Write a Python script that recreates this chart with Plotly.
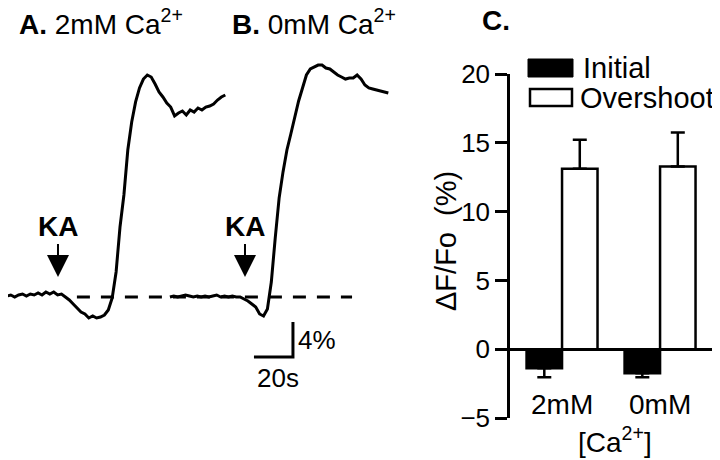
import plotly.graph_objects as go

# the page puts the figure 8 px in from the top-left corner,
# so the figure is 8 px smaller and positions are measured from the page
OFF = 8
W, H = 720 - OFF, 460 - OFF
FONT = "Liberation Sans, Arial, sans-serif"

# ---- panels A / B : dF/F traces (%), one sample every 2 s ----
DT = 2.0
trace_a = [-0.23, 0.11, 0.23, 0.0, 0.23, 0.34, 0.11, 0.34, 0.23, 0.46,
           0.23, 0.57, 0.34, 0.57, 0.23, 0.34, 0.0, -0.34, -0.8, -1.26,
           -1.71, -1.94, -2.4, -2.17, -2.4, -2.29, -2.06, -1.49, -0.11, 2.86,
           8.0, 11.66, 16.8, 20.0, 22.29, 23.89, 24.91, 25.37, 25.14, 24.34,
           23.43, 22.86, 22.17, 21.71, 20.69, 21.03, 21.26, 20.8, 21.37, 21.14,
           21.6, 21.37, 21.71, 21.83, 22.06, 22.51, 22.86, 23.09]
trace_b = [0.0, 0.11, 0.0, 0.11, 0.23, 0.11, 0.0, 0.11, 0.0, 0.11,
           0.0, 0.11, 0.23, 0.0, 0.11, 0.0, 0.11, 0.0, 0.0, -0.23,
           -0.46, -0.8, -1.14, -1.94, -2.17, -1.37, 1.71, 6.74, 11.3, 14.3,
           16.8, 18.63, 20.57, 22.4, 23.89, 25.37, 26.06, 26.29, 26.51, 26.51,
           26.17, 26.06, 25.71, 25.37, 25.14, 24.91, 25.03, 25.03, 25.37, 24.91,
           24.23, 23.89, 23.77, 23.66, 23.54, 23.43, 23.31]
time_a = [i * DT for i in range(len(trace_a))]
time_b = [i * DT for i in range(len(trace_b))]
B_SHIFT = 85.6            # s, where trace B is placed on the shared axis
KA_TIMES = [28.2, 124.1]  # s, KA application (shared axis)
BASELINE = [37.9, 179.0]  # s, extent of the dashed baseline
SCALE_T, SCALE_F = 20, 4  # scale bar: 20 s, 4 %
SCALE_CORNER = (148.7, -6.86)

# ---- panel C ----
ca_levels = ["2mM", "0mM"]
initial_mean = [-1.38, -1.74]
initial_err = [0.65, 0.30]
overshoot_mean = [13.12, 13.27]
overshoot_err = [2.10, 2.47]
y_ticks = [-5, 0, 5, 10, 15, 20]

PX_PER_S = 1.95     # trace time scale on the page
PX_PER_PCT = 8.75   # trace amplitude scale on the page
TRACE_X0 = 3        # page x of t = 0
TRACE_Y0 = 297      # page y of dF/F = 0


def px(x):
    return (x - OFF) / W


def py(y):
    return 1 - (y - OFF) / H


fig = go.Figure()

line = dict(color="black", width=3)
fig.add_trace(go.Scatter(x=time_a, y=trace_a, mode="lines", line=line,
                         xaxis="x", yaxis="y"))
fig.add_trace(go.Scatter(x=[t + B_SHIFT for t in time_b], y=trace_b,
                         mode="lines", line=line, xaxis="x", yaxis="y"))

# scale bar
cx, cy = SCALE_CORNER
fig.add_trace(go.Scatter(x=[cx - SCALE_T, cx, cx], y=[cy, cy, cy + SCALE_F],
                         mode="lines", line=dict(color="black", width=3),
                         xaxis="x", yaxis="y"))

fig.add_shape(type="line", xref="x", yref="y", x0=BASELINE[0], x1=BASELINE[1],
              y0=0, y1=0, line=dict(color="black", width=3, dash="13px,11px"),
              layer="below")

# bars
fig.add_trace(go.Bar(
    x=ca_levels, y=initial_mean, name="Initial", xaxis="x2", yaxis="y2",
    marker=dict(color="black", line=dict(color="black", width=2.5)),
    error_y=dict(type="data", symmetric=False, array=[0, 0],
                 arrayminus=initial_err, color="black", thickness=2.5, width=7),
))
fig.add_trace(go.Bar(
    x=ca_levels, y=overshoot_mean, name="Overshoot", xaxis="x2", yaxis="y2",
    marker=dict(color="white", line=dict(color="black", width=2.5)),
    error_y=dict(type="data", symmetric=False, array=overshoot_err,
                 arrayminus=[0, 0], color="black", thickness=2.5, width=7),
))

# (text, page x, page y, x anchor, font size, angle)
labels = [
    ("<b>A.</b> 2mM Ca<sup>2+</sup>", 17, 22, "left", 28, 0),
    ("<b>B.</b> 0mM Ca<sup>2+</sup>", 230, 22, "left", 28, 0),
    ("<b>C.</b>", 480, 20, "left", 28, 0),
    ("4%", 296, 340, "left", 26, 0),
    ("20s", 278, 378, "center", 26, 0),
    ("ΔF/Fo  (%)", 446, 241, "center", 29, -90),
    ("Initial", 581, 68, "left", 29, 0),
    ("Overshoot", 578, 98, "left", 29, 0),
    ("[Ca<sup>2+</sup>]", 615, 440, "center", 28, 0),
]
annotations = [
    dict(text=t, x=px(x), y=py(y), xref="paper", yref="paper",
         xanchor=xa, yanchor="middle", textangle=ang, showarrow=False,
         font=dict(size=s))
    for t, x, y, xa, s, ang in labels
]

for lbl in ca_levels:
    annotations.append(dict(text=lbl, x=lbl, xref="x2", y=py(404),
                            yref="paper", xanchor="center", yanchor="middle",
                            showarrow=False, font=dict(size=28)))

# KA labels with their arrows pointing at the application time
for t in KA_TIMES:
    annotations.append(dict(text="<b>KA</b>", x=t, y=2.29, xref="x", yref="y",
                            showarrow=True, ax=0, ay=-50, standoff=0,
                            arrowhead=2, arrowsize=2.2, arrowwidth=2,
                            arrowcolor="black", font=dict(size=28)))

shapes = [
    dict(type="rect", xref="paper", yref="paper", x0=px(528), x1=px(573),
         y0=py(77), y1=py(59), fillcolor="black", line=dict(color="black", width=1)),
    dict(type="rect", xref="paper", yref="paper", x0=px(530), x1=px(572),
         y0=py(106), y1=py(89), fillcolor="white", line=dict(color="black", width=2.5)),
]
for s in shapes:
    fig.add_shape(**s)

fig.update_layout(
    width=W, height=H,
    margin=dict(l=0, r=0, t=0, b=0, autoexpand=False),
    paper_bgcolor="white", plot_bgcolor="white",
    font=dict(family=FONT, color="black"),
    showlegend=False,
    barmode="group", bargap=0.276, bargroupgap=0,
    annotations=annotations,
    xaxis=dict(domain=[0, px(440)],
               range=[(OFF - TRACE_X0) / PX_PER_S, (440 - TRACE_X0) / PX_PER_S],
               visible=False),
    yaxis=dict(domain=[0, 1],
               range=[(TRACE_Y0 - 460) / PX_PER_PCT, (TRACE_Y0 - OFF) / PX_PER_PCT],
               visible=False),
    xaxis2=dict(domain=[px(510), px(717)], range=[-0.531, 1.581],
                anchor="y2", showticklabels=False, showgrid=False,
                zeroline=False, showline=False, ticks=""),
    yaxis2=dict(domain=[py(418), py(74)], range=[-5, 20], anchor="x2",
                tickvals=y_ticks, ticks="outside", ticklen=12, tickwidth=2.5,
                tickcolor="black", showline=True, linewidth=2.5,
                linecolor="black", showgrid=False, zeroline=True,
                zerolinecolor="black", zerolinewidth=2.5,
                tickfont=dict(size=26)),
)

fig.write_html("out.html")
